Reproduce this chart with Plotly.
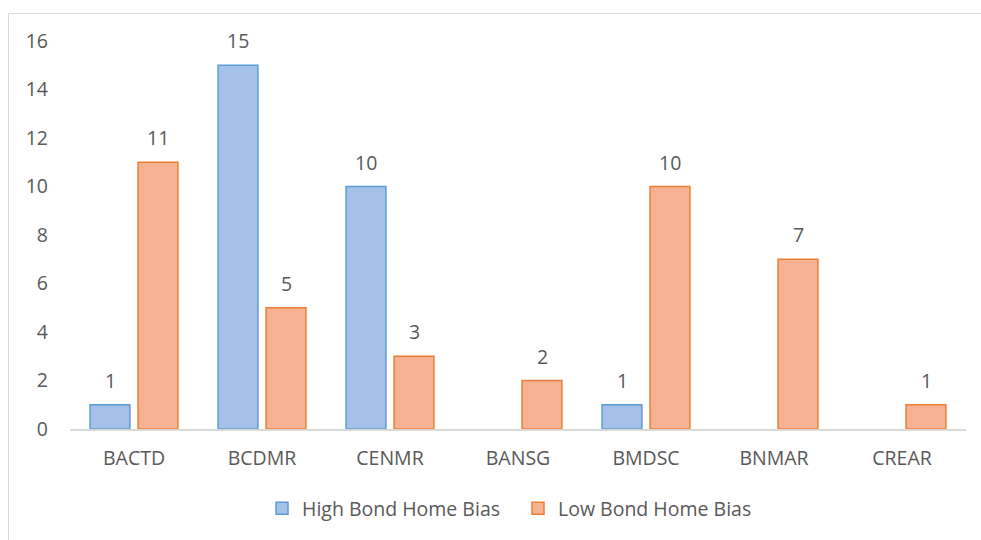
import plotly.graph_objects as go

categories = ["BACTD", "BCDMR", "CENMR", "BANSG", "BMDSC", "BNMAR", "CREAR"]
high_bias = [1, 15, 10, None, 1, None, None]
low_bias = [11, 5, 3, 2, 10, 7, 1]
y_ticks = [0, 2, 4, 6, 8, 10, 12, 14, 16]

TEXT = "#595959"
FONT = "Open Sans"
SIZE = 19.5

fig = go.Figure()
fig.add_trace(go.Bar(
    name="High Bond Home Bias", x=categories, y=high_bias,
    marker=dict(color="#a4c2e7", line=dict(color="#5b9bd5", width=1.5)),
))
fig.add_trace(go.Bar(
    name="Low Bond Home Bias", x=categories, y=low_bias,
    marker=dict(color="#f6b293", line=dict(color="#ed7d31", width=1.5)),
))

# value labels above each bar
annotations = []
for series, shift in ((high_bias, -24), (low_bias, 24)):
    for cat, v in zip(categories, series):
        if v is None:
            continue
        annotations.append(dict(
            x=cat, y=v, xref="x", yref="y", text=str(v), showarrow=False,
            xshift=shift, yshift=9, yanchor="bottom",
            font=dict(family=FONT, size=SIZE, color=TEXT),
        ))

fig.update_layout(
    width=981, height=540,
    margin=dict(l=70, r=15, t=41, b=111),
    paper_bgcolor="white", plot_bgcolor="white",
    barmode="group", bargap=0.25, bargroupgap=0.17,
    font=dict(family=FONT, size=SIZE, color=TEXT),
    showlegend=True,
    legend=dict(orientation="h", x=0.5, xanchor="center", y=-0.205, yanchor="middle",
                font=dict(family=FONT, size=SIZE, color=TEXT), itemwidth=30,
                entrywidth=211),
    annotations=annotations,
    shapes=[dict(type="rect", xref="paper", yref="paper",
                 x0=(8.5 - 70) / 896, x1=(1020 - 70) / 896,
                 y0=(429 - 570) / 388, y1=(429 - 13.5) / 388,
                 line=dict(color="#d9d9d9", width=1), layer="below")],
)
fig.update_xaxes(showgrid=False, showline=True, linecolor="#d9d9d9", linewidth=1.5,
                 ticks="", ticklabelstandoff=11, tickfont=dict(size=SIZE, color=TEXT))
fig.update_yaxes(range=[0, 16], tickvals=y_ticks, showgrid=False, zeroline=False,
                 showline=False, ticks="", ticklabelstandoff=21,
                 tickfont=dict(size=SIZE, color=TEXT))

fig.write_html("out.html")
